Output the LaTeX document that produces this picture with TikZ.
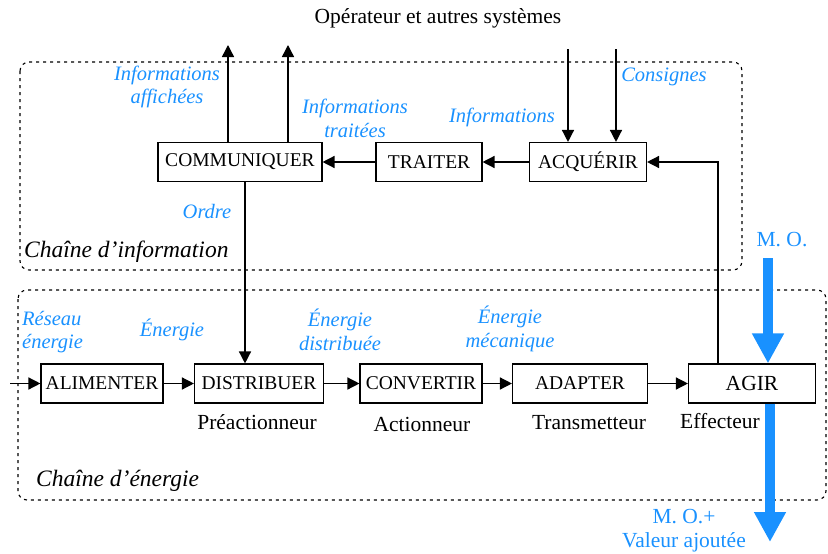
\documentclass[tikz,border=0pt]{standalone}
\usepackage{fontspec}
\setmainfont{Liberation Serif}
\usepackage{tikz}
\usetikzlibrary{arrows.meta,positioning,calc}
\definecolor{infoblue}{RGB}{25,145,255}

\begin{document}
\begin{tikzpicture}[x=1pt,y=-1pt,
      fct/.style={draw, line width=1.1pt, minimum height=39pt, inner sep=2pt, font=\fontsize{19.5}{22}\selectfont},
      flux/.style={line width=1.4pt, -{Triangle[length=12pt,width=12pt]}},
      mo/.style={line width=10pt, infoblue, -{Triangle[length=30pt,width=30pt]}},
      chaine/.style={line width=1.1pt, dash pattern=on 3pt off 4pt, rounded corners=9pt},
      lbl/.style={text=infoblue, font=\fontsize{20.5}{23.5}\selectfont\itshape, align=center},
      role/.style={font=\fontsize{21.5}{24}\selectfont}]
      \useasboundingbox (0,0) rectangle (828,554);
      % the two chains
      \draw[chaine] (20,62) rectangle (742,270);
      \draw[chaine] (18,290) rectangle (826,500);
      \node[role] (op) at (438,18) {Opérateur et autres systèmes};

      \node[fct, minimum width=164pt] (comm) at (240,162) {COMMUNIQUER};
      \node[fct, minimum width=106pt] (trait) at (429,162) {TRAITER};
      \node[fct, minimum width=117pt] (acq) at (588,162) {ACQUÉRIR};

      \node[fct, minimum width=122pt] (alim) at (102,383.5) {ALIMENTER};
      \node[fct, minimum width=129pt] (distr) at (259,383.5) {DISTRIBUER};
      \node[fct, minimum width=122pt] (conv) at (421,383.5) {CONVERTIR};
      \node[fct, minimum width=135pt] (adapt) at (580,383.5) {ADAPTER};
      \node[fct, minimum width=127pt, font=\fontsize{21.5}{24}\selectfont] (agir) at (752,383.5) {AGIR};

      \coordinate (aff) at (228,45);
      \coordinate (tra) at (288,45);
      \coordinate (inf) at (568,49);
      \coordinate (cons) at (616,49);
      \coordinate (retour) at (718,160);
      \coordinate (ordre) at (245,0);
      \coordinate (reseau) at (10,383.5);
      \coordinate (moin) at (768,258);
      \coordinate (moout) at (770,542);

      \draw[flux] (comm.north -| aff) -- (aff);
      \draw[flux] (comm.north -| tra) -- (tra);
      \draw[flux] (inf) -- (acq.north -| inf);
      \draw[flux] (cons) -- (acq.north -| cons);
      \draw[flux] (acq) -- (trait);
      \draw[flux] (trait) -- (comm);
      \draw[flux] (agir.north -| retour) |- (acq.east);
      \draw[flux] (comm.south -| ordre) -- (distr.north -| ordre);
      \draw[flux] (reseau) -- (alim);
      \draw[flux] (alim) -- (distr);
      \draw[flux] (distr) -- (conv);
      \draw[flux] (conv) -- (adapt);
      \draw[flux] (adapt) -- (agir);
      \draw[mo] (moin) -- (agir.north -| moin);
      \draw[mo] (agir.south -| moout) -- (moout);

      \node[lbl] (laff) at (167,87) {Informations\\affichées};
      \node[lbl] (ltra) at (355,118.5) {Informations\\traitées};
      \node[lbl] (linf) at (502,117) {Informations};
      \node[lbl] (lcons) at (664,77) {Consignes};
      \node[lbl] (lordre) at (207,211) {Ordre};
      \node[lbl, align=left, anchor=west, inner sep=0pt] (lres) at (22,332) {Réseau\\énergie};
      \node[lbl] (lene) at (172,330) {Énergie};
      \node[lbl] (ldis) at (340,330) {Énergie\\distribuée};
      \node[lbl] (lmeca) at (510,329) {Énergie\\mécanique};
      \node[lbl, font=\fontsize{21.5}{24}\selectfont] (lmo) at (782,240) {M. O.};
      \node[lbl, font=\fontsize{21.5}{24}\selectfont] (lva) at (684,531) {M. O.+\\Valeur ajoutée};

      \node[role, font=\fontsize{23.5}{26}\selectfont\itshape, anchor=west, inner sep=0pt] (cinf) at (24,252) {Chaîne d'information};
      \node[role, font=\fontsize{23.5}{26}\selectfont\itshape, anchor=west, inner sep=0pt] (cene) at (36,481) {Chaîne d'énergie};

      \node[role] (lpre) at (257,422) {Préactionneur};
      \node[role] (lact) at (422,424) {Actionneur};
      \node[role] (ltrans) at (589,423) {Transmetteur};
      \node[role] (leff) at (720,421) {Effecteur};
    \end{tikzpicture}
\end{document}
